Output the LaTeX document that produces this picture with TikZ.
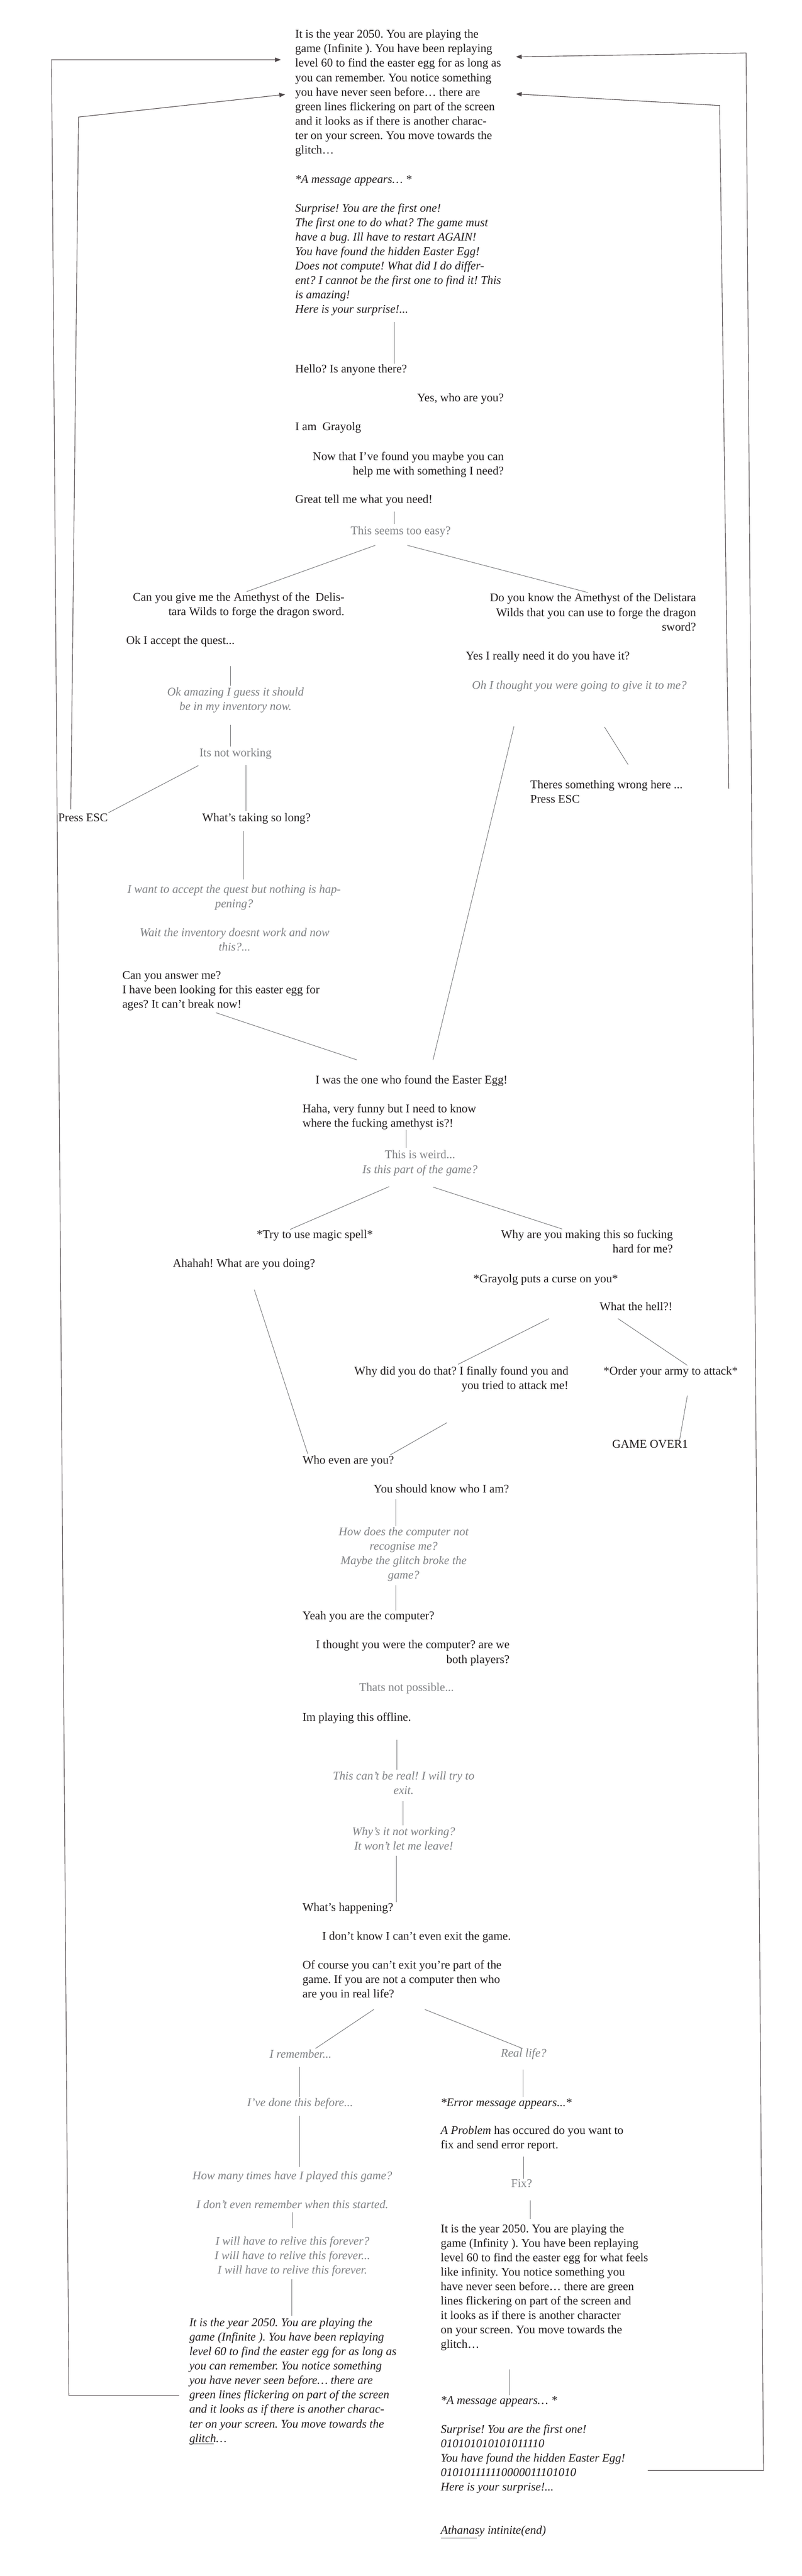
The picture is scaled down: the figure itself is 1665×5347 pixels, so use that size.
\documentclass[tikz,border=0pt]{standalone}
\usepackage{fontspec}
\setmainfont{Liberation Serif}
\usetikzlibrary{arrows.meta}
\frenchspacing
\definecolor{ink}{HTML}{231F20}
\definecolor{soft}{HTML}{808285}
\definecolor{wire}{HTML}{6D6E71}
\definecolor{loopc}{HTML}{4D4648}
\newcommand\blkL[1]{\begin{tabular}[t]{@{}l@{}}#1\end{tabular}}
\newcommand\blkC[1]{\begin{tabular}[t]{@{}c@{}}#1\end{tabular}}
\newcommand\blkR[1]{\begin{tabular}[t]{@{}r@{}}#1\end{tabular}}
\newcommand\link[3]{\coordinate (#1a) at #2; \coordinate (#1b) at #3; \draw[wire] (#1a) -- (#1b);}
\begin{document}
\begin{tikzpicture}[x=0.5pt,y=-0.5pt,
  every node/.style={inner sep=0pt, outer sep=0pt, text=ink,
    font=\fontsize{12.25pt}{15pt}\selectfont\frenchspacing},
  it/.style={font=\fontsize{12.25pt}{15pt}\selectfont\frenchspacing\itshape},
  dim/.style={text=soft},
  dimit/.style={text=soft, font=\fontsize{12.25pt}{15pt}\selectfont\frenchspacing\itshape},
  wire/.style={draw=wire, line width=0.5pt},
  loopline/.style={draw=loopc, line width=0.6pt, -{Triangle[length=6pt,width=4.5pt]}},
]
\fill[white] (0,0) rectangle (1665,5347);
\useasboundingbox (0,0) rectangle (1665,5347);

% ---------------- top ----------------
\node[anchor=base west] (intro) at (613,79) {\blkL{It is the year 2050. You are playing the\\ game (Infinite ). You have been replaying\\ level 60 to find the easter egg for as long as\\ you can remember. You notice something\\ you have never seen before… there are\\ green lines flickering on part of the screen\\ and it looks as if there is another charac-\\ ter on your screen. You move towards the\\ glitch…}};
\node[it, anchor=base west] (msg) at (613,380) {*A message appears… *};
\node[it, anchor=base west] (surp) at (613,440) {\blkL{Surprise! You are the first one!\\ The first one to do what? The game must\\ have a bug. Ill have to restart AGAIN!\\ You have found the hidden Easter Egg!\\ Does not compute! What did I do differ-\\ ent? I cannot be the first one to find it! This\\ is amazing!\\ Here is your surprise!...}};
\node[anchor=base west] (hello) at (613,774) {Hello? Is anyone there?};
\node[anchor=base east] (yes) at (1046,834) {Yes, who are you?};
\node[anchor=base west] (iam) at (613,893) {I am\ \ Grayolg};
\node[anchor=base east] (nowthat) at (1046,955) {\blkR{Now that I’ve found you maybe you can\\ help me with something I need?}};
\node[anchor=base west] (great) at (613,1044) {Great tell me what you need!};
\node[dim, anchor=base] (easy) at (832,1109) {This seems too easy?};
\node[anchor=base east] (give) at (715,1247) {\blkR{Can you give me the Amethyst of the\ \ Delis-\\ tara Wilds to forge the dragon sword.}};
\node[anchor=base east] (know) at (1445,1249) {\blkR{Do you know the Amethyst of the Delistara\\ Wilds that you can use to forge the dragon\\ sword?}};

% ---------------- left branch ----------------
\node[anchor=base west] (accept) at (262,1337) {Ok I accept the quest...};
\node[dimit, anchor=base] (amazing) at (489,1444) {\blkC{Ok amazing I guess it should\\ be in my inventory now.}};
\node[dim, anchor=base] (notwork) at (489,1570) {Its not working};
\node[anchor=base west] (escA) at (121,1705) {Press ESC};
\node[anchor=base west] (taking) at (420,1705) {What’s taking so long?};
\node[dimit, anchor=base] (wantacc) at (486,1854) {\blkC{I want to accept the quest but nothing is hap-\\ pening?}};
\node[dimit, anchor=base] (waitinv) at (487,1944) {\blkC{Wait the inventory doesnt work and now\\ this?...}};
\node[anchor=base west] (answer) at (254,2032) {\blkL{Can you answer me?\\ I have been looking for this easter egg for\\ ages? It can’t break now!}};

% ---------------- right branch ----------------
\node[anchor=base west] (really) at (967,1369) {Yes I really need it do you have it?};
\node[dimit, anchor=base west] (thought) at (980,1430) {Oh I thought you were going to give it to me?};
\node[anchor=base west] (wrong) at (1101,1637) {\blkL{Theres something wrong here ...\\ Press ESC}};

% ---------------- middle ----------------
\node[anchor=base west] (found) at (655,2249) {I was the one who found the Easter Egg!};
\node[anchor=base west] (haha) at (628,2309) {\blkL{Haha, very funny but I need to know\\ where the fucking amethyst is?!}};
\node[dim, anchor=base] (weird) at (872,2404) {This is weird...};
\node[dimit, anchor=base] (part) at (872,2435) {Is this part of the game?};
\node[anchor=base west] (spell) at (533,2570) {*Try to use magic spell*};
\node[anchor=base east] (why) at (1397,2570) {\blkR{Why are you making this so fucking\\ hard for me?}};
\node[anchor=base west] (ahah) at (359,2630) {Ahahah! What are you doing?};
\node[anchor=base west] (curse) at (983,2662) {*Grayolg puts a curse on you*};
\node[anchor=base west] (hell) at (1245,2720) {What the hell?!};
\node[anchor=base east] (whydid) at (1180,2854) {\blkR{Why did you do that? I finally found you and\\ you tried to attack me!}};
\node[anchor=base west] (army) at (1253,2854) {*Order your army to attack*};
\node[anchor=base west] (over) at (1271,3005) {GAME OVER1};
\node[anchor=base west] (whoeven) at (628,3039) {Who even are you?};
\node[anchor=base east] (should) at (1057,3099) {You should know who I am?};
\node[dimit, anchor=base] (recog) at (838,3187) {\blkC{How does the computer not\\ recognise me?\\ Maybe the glitch broke the\\ game?}};
\node[anchor=base west] (yeah) at (628,3362) {Yeah you are the computer?};
\node[anchor=base east] (players) at (1058,3422) {\blkR{I thought you were the computer? are we\\ both players?}};
\node[dim, anchor=base] (notposs) at (844,3510) {Thats not possible...};
\node[anchor=base west] (offline) at (628,3572) {Im playing this offline.};
\node[dimit, anchor=base] (real) at (838,3694) {\blkC{This can’t be real! I will try to\\ exit.}};
\node[dimit, anchor=base] (whys) at (838,3810) {\blkC{Why’s it not working?\\ It won’t let me leave!}};
\node[anchor=base west] (happen) at (628,3967) {What’s happening?};
\node[anchor=base west] (dontknow) at (669,4027) {I don’t know I can’t even exit the game.};
\node[anchor=base west] (ofcourse) at (628,4087) {\blkL{Of course you can’t exit you’re part of the\\ game. If you are not a computer then who\\ are you in real life?}};

% ---------------- bottom left ----------------
\node[dimit, anchor=base] (remember) at (624,4272) {I remember...};
\node[dimit, anchor=base] (before) at (623,4372) {I’ve done this before...};
\node[dimit, anchor=base] (howmany) at (607,4524) {How many times have I played this game?};
\node[dimit, anchor=base] (started) at (607,4584) {I don’t even remember when this started.};
\node[dimit, anchor=base] (relive) at (607,4660) {\blkC{I will have to relive this forever?\\ I will have to relive this forever...\\ I will have to relive this forever.}};
\node[it, anchor=base west] (again) at (393,4829) {\blkL{It is the year 2050. You are playing the\\ game (Infinite ). You have been replaying\\ level 60 to find the easter egg for as long as\\ you can remember. You notice something\\ you have never seen before… there are\\ green lines flickering on part of the screen\\ and it looks as if there is another charac-\\ ter on your screen. You move towards the\\ glitch…}};

% ---------------- bottom right ----------------
\node[dimit, anchor=base] (reallife) at (1087,4270) {Real life?};
\node[it, anchor=base west] (error) at (915,4372) {*Error message appears...*};
\node[anchor=base west] (problem) at (915,4430) {\blkL{{\itshape A Problem} has occured do you want to\\ fix and send error report.}};
\node[dim, anchor=base] (fix) at (1083,4540) {Fix?};
\node[anchor=base west] (infinity) at (915,4634) {\blkL{It is the year 2050. You are playing the\\ game (Infinity ). You have been replaying\\ level 60 to find the easter egg for what feels\\ like infinity. You notice something you\\ have never seen before… there are green\\ lines flickering on part of the screen and\\ it looks as if there is another character\\ on your screen. You move towards the\\ glitch…}};
\node[it, anchor=base west] (msgB) at (915,4990) {*A message appears… *};
\node[it, anchor=base west] (surpB) at (915,5050) {\blkL{Surprise! You are the first one!\\ 010101010101011110\\ You have found the hidden Easter Egg!\\ 010101111110000011101010\\ Here is your surprise!...}};
\node[it, anchor=base west] (endnote) at (915,5260) {Athanasy intinite(end)};

% ---------------- connectors ----------------
\link{c1}{(819,668)}{(819,755)}
\link{c2}{(819,1062)}{(819,1088)}
\link{c3}{(779,1132)}{(512,1228)}
\link{c4}{(846,1132)}{(1221,1230)}
\link{c5}{(479,1383)}{(479,1423)}
\link{c6}{(478,1505)}{(478,1550)}
\link{c7}{(412,1589)}{(225,1687)}
\link{c8}{(511,1588)}{(511,1683)}
\link{c9}{(505,1725)}{(505,1825)}
\link{c10}{(448,2102)}{(741,2200)}
\link{c11}{(1067,1508)}{(899,2200)}
\link{c12}{(1255,1509)}{(1304,1587)}
\link{c13}{(843,2345)}{(843,2383)}
\link{c14}{(808,2463)}{(602,2552)}
\link{c15}{(899,2464)}{(1167,2551)}
\link{c16}{(528,2677)}{(639,3018)}
\link{c17}{(1140,2737)}{(951,2832)}
\link{c18}{(1283,2737)}{(1427,2834)}
\link{c19}{(1427,2897)}{(1411,2988)}
\link{c20}{(928,2953)}{(810,3020)}
\link{c21}{(822,3112)}{(822,3167)}
\link{c22}{(822,3290)}{(822,3343)}
\link{c23}{(824,3611)}{(824,3673)}
\link{c24}{(837,3739)}{(837,3789)}
\link{c25}{(823,3852)}{(823,3948)}
\link{c26}{(776,4171)}{(655,4252)}
\link{c27}{(882,4171)}{(1085,4252)}
\link{c28}{(622,4290)}{(622,4352)}
\link{c29}{(1086,4296)}{(1086,4352)}
\link{c30}{(622,4392)}{(622,4498)}
\link{c31}{(1087,4476)}{(1087,4522)}
\link{c32}{(607,4592)}{(607,4625)}
\link{c33}{(606,4731)}{(606,4807)}
\link{c34}{(1101,4567)}{(1101,4606)}
\link{c35}{(1058,4918)}{(1058,4972)}
\link{u1}{(393,5073)}{(444,5073)}
\link{u2}{(915,5268)}{(990,5268)}

% ---------------- loops back to the start ----------------
\coordinate (l1a) at (372,4972); \coordinate (l1b) at (143,4972);
\coordinate (l1c) at (107,124);  \coordinate (l1d) at (583,124);
\draw[loopline] (l1a) -- (l1b) -- (l1c) -- (l1d);
\coordinate (l2a) at (147,1680); \coordinate (l2b) at (163,243);
\coordinate (l2c) at (592,196);
\draw[loopline] (l2a) -- (l2b) -- (l2c);
\coordinate (l3a) at (1513,1637); \coordinate (l3b) at (1494,219);
\coordinate (l3c) at (1071,195);
\draw[loopline] (l3a) -- (l3b) -- (l3c);
\coordinate (l4a) at (1345,5128); \coordinate (l4b) at (1585,5128);
\coordinate (l4c) at (1549,110);  \coordinate (l4d) at (1071,118);
\draw[loopline] (l4a) -- (l4b) -- (l4c) -- (l4d);
\end{tikzpicture}
\end{document}
